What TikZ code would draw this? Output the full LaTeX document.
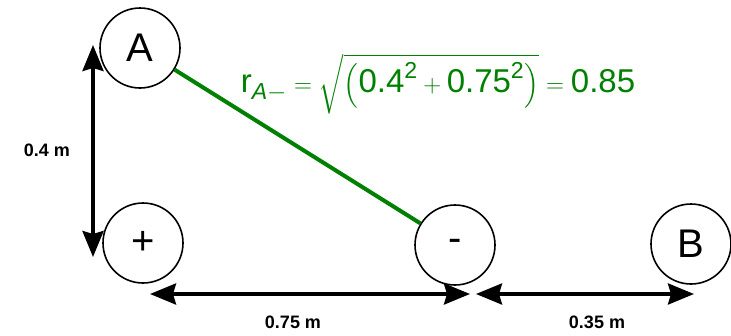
\documentclass[tikz,border=0pt]{standalone}
\usepackage{amsmath}
\usepackage{fontspec}
\setmainfont{Liberation Sans}
\usetikzlibrary{arrows.meta,positioning}
\definecolor{chargeink}{RGB}{0,0,0}
\definecolor{distgreen}{RGB}{0,128,0}

\begin{document}
\begin{tikzpicture}[
  x=1pt, y=-1pt,
  charge/.style={circle, draw=chargeink, line width=1.6pt, minimum size=80pt, inner sep=0pt, font=\fontsize{40}{40}\selectfont},
  dim/.style={{Stealth[length=26pt,width=21pt,inset=3pt]}-{Stealth[length=26pt,width=21pt,inset=3pt]}, line width=3.5pt, draw=chargeink},
  dimlabel/.style={text=chargeink, font=\bfseries\fontsize{18}{18}\selectfont},
  rline/.style={draw=distgreen, line width=4pt}
]
\useasboundingbox (0,0) rectangle (731,335);

\node[charge] (A) at (140,48) {A};
\node[charge] (plus) at (143,243) {+};
\node[charge] (minus) at (455,245) {-};
\node[charge] (B) at (691,244) {B};

\coordinate (vtop) at (93,45);
\coordinate (vbot) at (93,257);
\coordinate (hleft) at (150,294);
\coordinate (hmid) at (470,294);
\coordinate (hmidb) at (476,294);
\coordinate (hright) at (694,294);

\draw[dim] (vtop) -- (vbot);
\draw[dim] (hleft) -- (hmid);
\draw[dim] (hmidb) -- (hright);

\node[dimlabel] (dy) at (47,150) {0.4 m};
\node[dimlabel] (dx) at (293,322) {0.75 m};
\node[dimlabel] (db) at (597,322) {0.35 m};

\draw[rline] (A) -- (minus);

\node[text=distgreen, font=\fontsize{33}{33}\selectfont] (formula) at (438,84)
  {$\text{r}_{\text{\itshape A}-} = \sqrt{\left(\text{0.4}^{\text{2}} + \text{0.75}^{\text{2}}\right)} = \text{0.85}$};
\end{tikzpicture}
\end{document}
